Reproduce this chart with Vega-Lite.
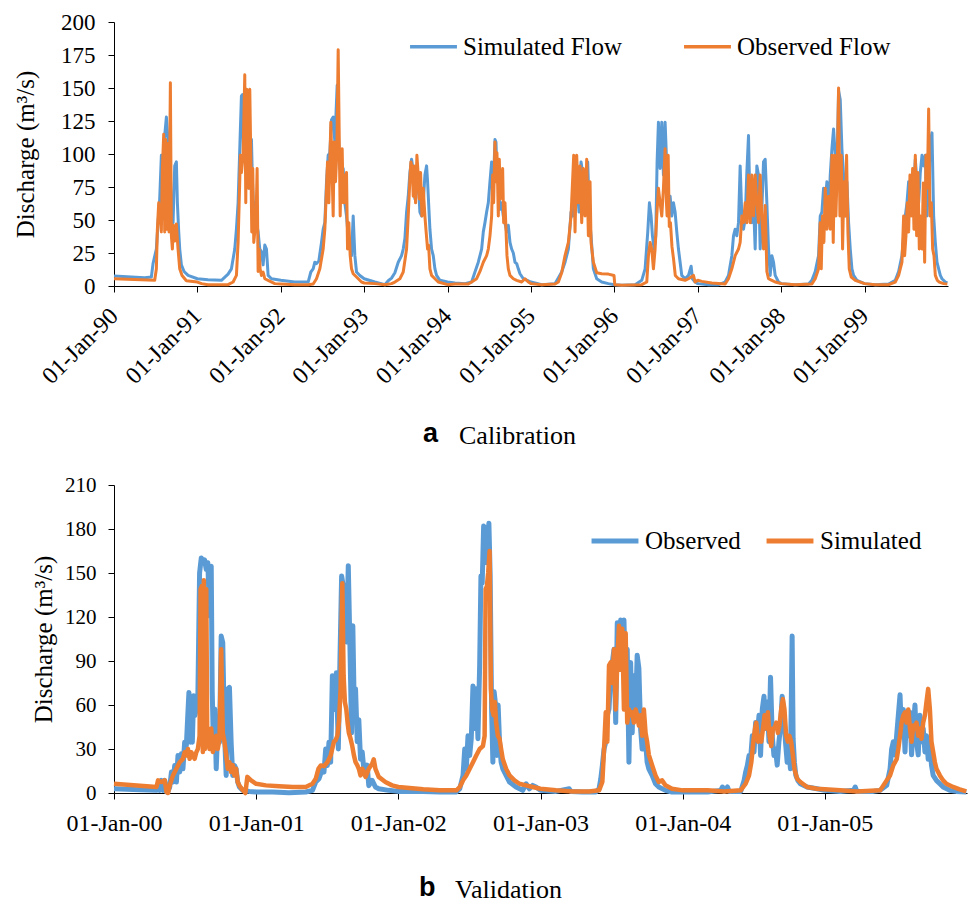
{
"$schema": "https://vega.github.io/schema/vega-lite/v6.json",
"padding": {"left": 13, "top": 11, "right": 0, "bottom": 0},
"spacing": 26,
"config": {
 "view": {"stroke": null},
 "font": "'Liberation Serif', 'Times New Roman', Times, 'DejaVu Serif', serif",
 "axis": {"grid": false, "domainColor": "#000", "tickColor": "#000", "labelColor": "#000", "titleColor": "#000", "labelFont": "'Liberation Serif', 'Times New Roman', Times, 'DejaVu Serif', serif", "titleFont": "'Liberation Serif', 'Times New Roman', Times, 'DejaVu Serif', serif", "titleFontWeight": "normal", "tickSize": 6, "domainWidth": 1, "tickWidth": 1},
 "legend": {"labelFont": "'Liberation Serif', 'Times New Roman', Times, 'DejaVu Serif', serif", "labelColor": "#000"}
},
"datasets": {
"calSim": [
{"t":1990,"q":7.5},{"t":1990.368,"q":6.3},{"t":1990.448,"q":6.8},{"t":1990.468,"q":17},{"t":1990.508,"q":28},{"t":1990.528,"q":48},{"t":1990.548,"q":66},{"t":1990.568,"q":99},{"t":1990.588,"q":96},{"t":1990.608,"q":114},{"t":1990.628,"q":128},{"t":1990.648,"q":110},{"t":1990.66,"q":63},{"t":1990.676,"q":83},{"t":1990.688,"q":53},{"t":1990.708,"q":48},{"t":1990.728,"q":91},{"t":1990.748,"q":94},{"t":1990.76,"q":63},{"t":1990.776,"q":41},{"t":1990.788,"q":28},{"t":1990.808,"q":16},{"t":1990.84,"q":11},{"t":1990.888,"q":8},
{"t":1991,"q":5.5},{"t":1991.128,"q":4.8},{"t":1991.288,"q":4.3},{"t":1991.368,"q":9},{"t":1991.408,"q":13},{"t":1991.448,"q":28},{"t":1991.468,"q":43},{"t":1991.488,"q":63},{"t":1991.508,"q":104},{"t":1991.528,"q":144},{"t":1991.54,"q":145},{"t":1991.552,"q":99},{"t":1991.568,"q":129},{"t":1991.58,"q":86},{"t":1991.592,"q":144},{"t":1991.608,"q":129},{"t":1991.62,"q":74},{"t":1991.636,"q":109},{"t":1991.648,"q":111},{"t":1991.66,"q":79},{"t":1991.676,"q":53},{"t":1991.688,"q":63},{"t":1991.708,"q":48},{"t":1991.728,"q":41},{"t":1991.748,"q":28},{"t":1991.768,"q":26},{"t":1991.788,"q":16},{"t":1991.808,"q":31},{"t":1991.828,"q":28},{"t":1991.848,"q":8},{"t":1991.888,"q":5.5},
{"t":1992,"q":4.3},{"t":1992.168,"q":3},{"t":1992.328,"q":3},{"t":1992.36,"q":10.6},{"t":1992.388,"q":13},{"t":1992.408,"q":18},{"t":1992.428,"q":17},{"t":1992.456,"q":19},{"t":1992.488,"q":33},{"t":1992.508,"q":43},{"t":1992.528,"q":48},{"t":1992.548,"q":79},{"t":1992.568,"q":99},{"t":1992.588,"q":101},{"t":1992.608,"q":126},{"t":1992.628,"q":128},{"t":1992.648,"q":109},{"t":1992.676,"q":152},{"t":1992.688,"q":119},{"t":1992.708,"q":89},{"t":1992.728,"q":84},{"t":1992.748,"q":89},{"t":1992.768,"q":63},{"t":1992.788,"q":53},{"t":1992.808,"q":38},{"t":1992.828,"q":33},{"t":1992.848,"q":23},{"t":1992.868,"q":53},{"t":1992.888,"q":23},{"t":1992.908,"q":10.6},{"t":1992.948,"q":8},
{"t":1993,"q":5.5},{"t":1993.128,"q":3},{"t":1993.248,"q":1},{"t":1993.288,"q":4},{"t":1993.328,"q":6},{"t":1993.368,"q":10},{"t":1993.408,"q":18},{"t":1993.448,"q":23},{"t":1993.468,"q":28},{"t":1993.488,"q":36},{"t":1993.508,"q":56},{"t":1993.528,"q":68},{"t":1993.548,"q":86},{"t":1993.568,"q":96},{"t":1993.58,"q":91},{"t":1993.596,"q":74},{"t":1993.608,"q":66},{"t":1993.628,"q":74},{"t":1993.648,"q":79},{"t":1993.668,"q":56},{"t":1993.688,"q":53},{"t":1993.708,"q":63},{"t":1993.728,"q":84},{"t":1993.748,"q":91},{"t":1993.76,"q":79},{"t":1993.776,"q":58},{"t":1993.788,"q":43},{"t":1993.808,"q":28},{"t":1993.828,"q":23},{"t":1993.848,"q":13},{"t":1993.868,"q":8},{"t":1993.908,"q":4.3},
{"t":1994,"q":3},{"t":1994.088,"q":2.3},{"t":1994.208,"q":1.8},{"t":1994.288,"q":3},{"t":1994.328,"q":10.6},{"t":1994.368,"q":18},{"t":1994.408,"q":28},{"t":1994.428,"q":41},{"t":1994.448,"q":48},{"t":1994.468,"q":56},{"t":1994.488,"q":63},{"t":1994.508,"q":79},{"t":1994.528,"q":94},{"t":1994.548,"q":74},{"t":1994.568,"q":111},{"t":1994.58,"q":109},{"t":1994.592,"q":84},{"t":1994.608,"q":79},{"t":1994.628,"q":58},{"t":1994.648,"q":63},{"t":1994.668,"q":53},{"t":1994.688,"q":48},{"t":1994.708,"q":41},{"t":1994.728,"q":46},{"t":1994.748,"q":33},{"t":1994.768,"q":28},{"t":1994.788,"q":25},{"t":1994.808,"q":18},{"t":1994.828,"q":17},{"t":1994.848,"q":13},{"t":1994.868,"q":9.3},{"t":1994.908,"q":5.5},
{"t":1995,"q":3},{"t":1995.128,"q":1},{"t":1995.288,"q":1.8},{"t":1995.368,"q":10.6},{"t":1995.408,"q":18},{"t":1995.448,"q":28},{"t":1995.48,"q":56},{"t":1995.5,"q":53},{"t":1995.52,"q":63},{"t":1995.548,"q":79},{"t":1995.576,"q":56},{"t":1995.6,"q":94},{"t":1995.624,"q":84},{"t":1995.648,"q":63},{"t":1995.68,"q":94},{"t":1995.7,"q":53},{"t":1995.72,"q":38},{"t":1995.748,"q":13},{"t":1995.788,"q":5.5},{"t":1995.848,"q":3},{"t":1995.928,"q":1.8},
{"t":1996,"q":1},{"t":1996.088,"q":0.5},{"t":1996.248,"q":1},{"t":1996.328,"q":4.3},{"t":1996.368,"q":13},{"t":1996.4,"q":41},{"t":1996.42,"q":63},{"t":1996.44,"q":53},{"t":1996.456,"q":38},{"t":1996.476,"q":28},{"t":1996.496,"q":38},{"t":1996.512,"q":94},{"t":1996.528,"q":124},{"t":1996.548,"q":89},{"t":1996.568,"q":124},{"t":1996.588,"q":84},{"t":1996.608,"q":124},{"t":1996.628,"q":91},{"t":1996.648,"q":63},{"t":1996.668,"q":68},{"t":1996.688,"q":53},{"t":1996.708,"q":63},{"t":1996.728,"q":56},{"t":1996.748,"q":41},{"t":1996.768,"q":28},{"t":1996.788,"q":18},{"t":1996.808,"q":8},{"t":1996.848,"q":5.5},{"t":1996.888,"q":8},{"t":1996.92,"q":15},{"t":1996.936,"q":5.5},{"t":1996.968,"q":3},
{"t":1997,"q":1.8},{"t":1997.128,"q":1},{"t":1997.248,"q":1},{"t":1997.328,"q":3},{"t":1997.368,"q":8},{"t":1997.408,"q":23},{"t":1997.428,"q":38},{"t":1997.448,"q":43},{"t":1997.468,"q":38},{"t":1997.488,"q":48},{"t":1997.508,"q":91},{"t":1997.528,"q":53},{"t":1997.548,"q":43},{"t":1997.568,"q":51},{"t":1997.588,"q":86},{"t":1997.608,"q":114},{"t":1997.628,"q":53},{"t":1997.648,"q":48},{"t":1997.668,"q":63},{"t":1997.688,"q":28},{"t":1997.708,"q":91},{"t":1997.728,"q":84},{"t":1997.748,"q":28},{"t":1997.768,"q":58},{"t":1997.788,"q":94},{"t":1997.808,"q":96},{"t":1997.828,"q":63},{"t":1997.848,"q":28},{"t":1997.868,"q":8},{"t":1997.888,"q":23},{"t":1997.908,"q":18},{"t":1997.928,"q":8},{"t":1997.968,"q":3},
{"t":1998,"q":1.8},{"t":1998.168,"q":1},{"t":1998.328,"q":1.5},{"t":1998.368,"q":4.3},{"t":1998.408,"q":11},{"t":1998.448,"q":23},{"t":1998.468,"q":53},{"t":1998.488,"q":56},{"t":1998.508,"q":74},{"t":1998.528,"q":63},{"t":1998.548,"q":79},{"t":1998.568,"q":53},{"t":1998.588,"q":84},{"t":1998.608,"q":104},{"t":1998.628,"q":119},{"t":1998.648,"q":99},{"t":1998.668,"q":86},{"t":1998.688,"q":148},{"t":1998.708,"q":141},{"t":1998.728,"q":104},{"t":1998.748,"q":84},{"t":1998.768,"q":53},{"t":1998.788,"q":79},{"t":1998.808,"q":48},{"t":1998.828,"q":28},{"t":1998.848,"q":13},{"t":1998.868,"q":8},{"t":1998.908,"q":4.3},
{"t":1999,"q":1.8},{"t":1999.128,"q":1},{"t":1999.288,"q":1.5},{"t":1999.368,"q":4.3},{"t":1999.408,"q":11},{"t":1999.448,"q":23},{"t":1999.468,"q":38},{"t":1999.488,"q":53},{"t":1999.508,"q":63},{"t":1999.528,"q":79},{"t":1999.548,"q":63},{"t":1999.568,"q":84},{"t":1999.588,"q":74},{"t":1999.608,"q":96},{"t":1999.628,"q":79},{"t":1999.648,"q":63},{"t":1999.668,"q":86},{"t":1999.688,"q":99},{"t":1999.708,"q":91},{"t":1999.728,"q":99},{"t":1999.748,"q":53},{"t":1999.768,"q":79},{"t":1999.788,"q":109},{"t":1999.808,"q":116},{"t":1999.828,"q":53},{"t":1999.848,"q":33},{"t":1999.868,"q":18},{"t":1999.888,"q":13},{"t":1999.908,"q":8},{"t":1999.928,"q":5.5},{"t":1999.968,"q":3},{"t":1999.992,"q":2.3}
],
"calObs": [
{"t":1990,"q":5.5},{"t":1990.488,"q":4.3},{"t":1990.508,"q":13},{"t":1990.52,"q":43},{"t":1990.536,"q":63},{"t":1990.552,"q":53},{"t":1990.568,"q":41},{"t":1990.58,"q":89},{"t":1990.596,"q":115},{"t":1990.608,"q":41},{"t":1990.62,"q":111},{"t":1990.632,"q":43},{"t":1990.648,"q":108},{"t":1990.66,"q":41},{"t":1990.676,"q":154},{"t":1990.688,"q":38},{"t":1990.7,"q":28},{"t":1990.712,"q":46},{"t":1990.728,"q":34},{"t":1990.748,"q":47},{"t":1990.768,"q":28},{"t":1990.788,"q":13},{"t":1990.816,"q":8},{"t":1990.868,"q":4},
{"t":1991,"q":3},{"t":1991.05,"q":1.8},{"t":1991.128,"q":1},{"t":1991.368,"q":1},{"t":1991.428,"q":3},{"t":1991.468,"q":8},{"t":1991.488,"q":33},{"t":1991.5,"q":61},{"t":1991.516,"q":99},{"t":1991.528,"q":86},{"t":1991.548,"q":99},{"t":1991.568,"q":160},{"t":1991.58,"q":63},{"t":1991.592,"q":149},{"t":1991.604,"q":89},{"t":1991.616,"q":74},{"t":1991.628,"q":149},{"t":1991.64,"q":99},{"t":1991.652,"q":41},{"t":1991.664,"q":89},{"t":1991.676,"q":33},{"t":1991.688,"q":41},{"t":1991.704,"q":53},{"t":1991.716,"q":89},{"t":1991.728,"q":11},{"t":1991.74,"q":28},{"t":1991.752,"q":13},{"t":1991.768,"q":8},{"t":1991.788,"q":10.6},{"t":1991.808,"q":5.5},{"t":1991.848,"q":4.3},{"t":1991.928,"q":1.8},
{"t":1992,"q":1.5},{"t":1992.168,"q":1},{"t":1992.328,"q":1},{"t":1992.388,"q":1.5},{"t":1992.428,"q":5.5},{"t":1992.468,"q":13},{"t":1992.508,"q":28},{"t":1992.528,"q":43},{"t":1992.548,"q":74},{"t":1992.56,"q":94},{"t":1992.576,"q":63},{"t":1992.588,"q":94},{"t":1992.6,"q":124},{"t":1992.616,"q":84},{"t":1992.628,"q":53},{"t":1992.64,"q":109},{"t":1992.656,"q":79},{"t":1992.672,"q":101},{"t":1992.688,"q":179},{"t":1992.7,"q":116},{"t":1992.712,"q":53},{"t":1992.724,"q":89},{"t":1992.736,"q":104},{"t":1992.748,"q":63},{"t":1992.764,"q":84},{"t":1992.776,"q":63},{"t":1992.788,"q":86},{"t":1992.8,"q":28},{"t":1992.816,"q":48},{"t":1992.832,"q":23},{"t":1992.848,"q":13},{"t":1992.868,"q":9.3},{"t":1992.908,"q":6.8},{"t":1992.968,"q":3},
{"t":1993,"q":2.3},{"t":1993.128,"q":1.8},{"t":1993.248,"q":1},{"t":1993.328,"q":1.8},{"t":1993.368,"q":3},{"t":1993.428,"q":5.5},{"t":1993.468,"q":10.6},{"t":1993.508,"q":28},{"t":1993.528,"q":53},{"t":1993.548,"q":81},{"t":1993.56,"q":94},{"t":1993.576,"q":89},{"t":1993.588,"q":68},{"t":1993.6,"q":91},{"t":1993.616,"q":63},{"t":1993.632,"q":99},{"t":1993.648,"q":84},{"t":1993.66,"q":66},{"t":1993.676,"q":86},{"t":1993.692,"q":53},{"t":1993.708,"q":74},{"t":1993.728,"q":53},{"t":1993.74,"q":43},{"t":1993.76,"q":28},{"t":1993.772,"q":31},{"t":1993.788,"q":13},{"t":1993.808,"q":8},{"t":1993.848,"q":5.5},{"t":1993.888,"q":3},
{"t":1994,"q":1},{"t":1994.088,"q":1.5},{"t":1994.248,"q":1.5},{"t":1994.288,"q":3},{"t":1994.348,"q":5.5},{"t":1994.388,"q":11},{"t":1994.428,"q":18},{"t":1994.468,"q":23},{"t":1994.488,"q":28},{"t":1994.508,"q":38},{"t":1994.528,"q":53},{"t":1994.54,"q":84},{"t":1994.552,"q":63},{"t":1994.568,"q":109},{"t":1994.58,"q":79},{"t":1994.592,"q":101},{"t":1994.608,"q":53},{"t":1994.62,"q":96},{"t":1994.632,"q":66},{"t":1994.648,"q":79},{"t":1994.66,"q":89},{"t":1994.672,"q":48},{"t":1994.688,"q":63},{"t":1994.7,"q":43},{"t":1994.712,"q":23},{"t":1994.728,"q":13},{"t":1994.748,"q":8},{"t":1994.788,"q":5.5},{"t":1994.828,"q":4.3},{"t":1994.888,"q":3},{"t":1994.928,"q":5.5},{"t":1994.968,"q":3},
{"t":1995,"q":1.8},{"t":1995.128,"q":1},{"t":1995.288,"q":1.5},{"t":1995.328,"q":3},{"t":1995.368,"q":10},{"t":1995.408,"q":23},{"t":1995.448,"q":33},{"t":1995.48,"q":53},{"t":1995.512,"q":99},{"t":1995.528,"q":41},{"t":1995.548,"q":99},{"t":1995.568,"q":63},{"t":1995.588,"q":91},{"t":1995.608,"q":48},{"t":1995.628,"q":89},{"t":1995.648,"q":53},{"t":1995.668,"q":96},{"t":1995.688,"q":38},{"t":1995.708,"q":79},{"t":1995.72,"q":33},{"t":1995.748,"q":18},{"t":1995.788,"q":10},{"t":1995.848,"q":9.3},{"t":1995.928,"q":9},{"t":1995.995,"q":8},
{"t":1996.005,"q":1},{"t":1996.088,"q":0.5},{"t":1996.328,"q":1},{"t":1996.388,"q":3},{"t":1996.408,"q":23},{"t":1996.428,"q":33},{"t":1996.448,"q":28},{"t":1996.468,"q":13},{"t":1996.488,"q":28},{"t":1996.508,"q":53},{"t":1996.528,"q":74},{"t":1996.548,"q":63},{"t":1996.568,"q":53},{"t":1996.588,"q":74},{"t":1996.608,"q":104},{"t":1996.624,"q":63},{"t":1996.632,"q":53},{"t":1996.645,"q":99},{"t":1996.658,"q":45},{"t":1996.672,"q":48},{"t":1996.69,"q":30},{"t":1996.71,"q":20},{"t":1996.73,"q":8},{"t":1996.768,"q":5.5},{"t":1996.848,"q":4.3},{"t":1996.888,"q":5.5},{"t":1996.948,"q":8},{"t":1996.968,"q":3},
{"t":1997,"q":4.3},{"t":1997.048,"q":3.5},{"t":1997.168,"q":2.3},{"t":1997.328,"q":1.5},{"t":1997.368,"q":5.5},{"t":1997.408,"q":13},{"t":1997.448,"q":23},{"t":1997.488,"q":28},{"t":1997.508,"q":33},{"t":1997.528,"q":53},{"t":1997.548,"q":48},{"t":1997.568,"q":63},{"t":1997.588,"q":48},{"t":1997.608,"q":84},{"t":1997.628,"q":48},{"t":1997.648,"q":84},{"t":1997.668,"q":53},{"t":1997.688,"q":84},{"t":1997.708,"q":63},{"t":1997.728,"q":48},{"t":1997.748,"q":84},{"t":1997.768,"q":53},{"t":1997.788,"q":28},{"t":1997.808,"q":61},{"t":1997.828,"q":11},{"t":1997.848,"q":5.5},{"t":1997.888,"q":4.3},{"t":1997.928,"q":3},
{"t":1998,"q":1.8},{"t":1998.168,"q":1},{"t":1998.368,"q":1.5},{"t":1998.408,"q":5.5},{"t":1998.448,"q":13},{"t":1998.468,"q":48},{"t":1998.48,"q":13},{"t":1998.496,"q":53},{"t":1998.512,"q":33},{"t":1998.528,"q":74},{"t":1998.548,"q":43},{"t":1998.568,"q":68},{"t":1998.588,"q":43},{"t":1998.608,"q":99},{"t":1998.624,"q":33},{"t":1998.64,"q":99},{"t":1998.656,"q":53},{"t":1998.672,"q":89},{"t":1998.688,"q":150},{"t":1998.704,"q":53},{"t":1998.72,"q":99},{"t":1998.736,"q":28},{"t":1998.752,"q":79},{"t":1998.768,"q":53},{"t":1998.784,"q":99},{"t":1998.8,"q":41},{"t":1998.816,"q":13},{"t":1998.84,"q":6.8},{"t":1998.888,"q":4.3},
{"t":1999,"q":1.8},{"t":1999.128,"q":1},{"t":1999.288,"q":1},{"t":1999.368,"q":3},{"t":1999.408,"q":8},{"t":1999.448,"q":18},{"t":1999.468,"q":53},{"t":1999.48,"q":23},{"t":1999.496,"q":38},{"t":1999.512,"q":63},{"t":1999.528,"q":41},{"t":1999.544,"q":84},{"t":1999.56,"q":53},{"t":1999.576,"q":89},{"t":1999.592,"q":43},{"t":1999.608,"q":99},{"t":1999.624,"q":38},{"t":1999.64,"q":86},{"t":1999.656,"q":28},{"t":1999.672,"q":53},{"t":1999.688,"q":28},{"t":1999.704,"q":78},{"t":1999.72,"q":18},{"t":1999.736,"q":99},{"t":1999.752,"q":74},{"t":1999.768,"q":134},{"t":1999.784,"q":53},{"t":1999.8,"q":63},{"t":1999.816,"q":28},{"t":1999.832,"q":23},{"t":1999.848,"q":8},{"t":1999.872,"q":4.3},{"t":1999.896,"q":3},{"t":1999.948,"q":1.8},{"t":1999.992,"q":1.5}
],
"valObs": [
{"t":2000,"q":2.9},{"t":2000.182,"q":2.3},{"t":2000.299,"q":1.8},{"t":2000.31,"q":6.3},{"t":2000.322,"q":1.8},{"t":2000.334,"q":8.6},{"t":2000.345,"q":1.8},{"t":2000.357,"q":8.6},{"t":2000.369,"q":0.7},{"t":2000.38,"q":1.1},{"t":2000.392,"q":4.1},{"t":2000.404,"q":14.3},{"t":2000.415,"q":7.5},{"t":2000.427,"q":18.8},{"t":2000.439,"q":7.5},{"t":2000.45,"q":25.6},{"t":2000.462,"q":14.3},{"t":2000.474,"q":26.7},{"t":2000.485,"q":16.5},{"t":2000.497,"q":34.6},{"t":2000.509,"q":32.4},{"t":2000.52,"q":55},{"t":2000.527,"q":68.6},{"t":2000.537,"q":34.6},{"t":2000.544,"q":52.8},{"t":2000.551,"q":34.6},{"t":2000.56,"q":66.3},{"t":2000.569,"q":52.8},{"t":2000.579,"q":57.3},{"t":2000.59,"q":66.3},{"t":2000.602,"q":150},{"t":2000.614,"q":160.3},{"t":2000.625,"q":157},{"t":2000.637,"q":159},{"t":2000.649,"q":152.4},{"t":2000.66,"q":157},{"t":2000.672,"q":120.7},{"t":2000.684,"q":154.6},{"t":2000.691,"q":68.6},{"t":2000.7,"q":30},{"t":2000.709,"q":57.3},{"t":2000.719,"q":16.5},{"t":2000.73,"q":43.7},{"t":2000.742,"q":34.6},{"t":2000.754,"q":107},{"t":2000.765,"q":102.6},{"t":2000.777,"q":41.4},{"t":2000.789,"q":12},{"t":2000.8,"q":70.9},{"t":2000.812,"q":72},{"t":2000.824,"q":34.6},{"t":2000.835,"q":12},{"t":2000.847,"q":18.8},{"t":2000.859,"q":16.5},{"t":2000.87,"q":7.5},{"t":2000.882,"q":4.1},{"t":2000.905,"q":1.8},{"t":2000.952,"q":1.1},
{"t":2001,"q":0.7},{"t":2001.116,"q":0.7},{"t":2001.232,"q":0.2},{"t":2001.349,"q":0.7},{"t":2001.396,"q":1.8},{"t":2001.419,"q":7.5},{"t":2001.442,"q":9.7},{"t":2001.466,"q":16.5},{"t":2001.477,"q":14.3},{"t":2001.489,"q":30},{"t":2001.501,"q":18.8},{"t":2001.512,"q":34.6},{"t":2001.524,"q":21},{"t":2001.536,"q":80},{"t":2001.554,"q":57},{"t":2001.564,"q":82},{"t":2001.578,"q":30},{"t":2001.589,"q":89},{"t":2001.601,"q":148},{"t":2001.613,"q":141},{"t":2001.624,"q":118},{"t":2001.636,"q":103},{"t":2001.648,"q":155},{"t":2001.659,"q":103},{"t":2001.671,"q":41},{"t":2001.68,"q":114},{"t":2001.69,"q":57},{"t":2001.699,"q":71},{"t":2001.711,"q":35},{"t":2001.722,"q":50},{"t":2001.734,"q":23},{"t":2001.746,"q":28},{"t":2001.757,"q":16.5},{"t":2001.769,"q":12},{"t":2001.781,"q":19},{"t":2001.792,"q":5},{"t":2001.816,"q":8.6},{"t":2001.839,"q":4.1},{"t":2001.862,"q":2.9},{"t":2001.932,"q":1.8},
{"t":2002,"q":1.1},{"t":2002.175,"q":1.1},{"t":2002.292,"q":0.7},{"t":2002.408,"q":0.7},{"t":2002.432,"q":2.9},{"t":2002.455,"q":12},{"t":2002.467,"q":30},{"t":2002.478,"q":16.5},{"t":2002.49,"q":39},{"t":2002.502,"q":25.6},{"t":2002.513,"q":37},{"t":2002.525,"q":73},{"t":2002.537,"q":44},{"t":2002.548,"q":71},{"t":2002.56,"q":37},{"t":2002.572,"q":87},{"t":2002.581,"q":148},{"t":2002.59,"q":143},{"t":2002.6,"q":182},{"t":2002.609,"q":181},{"t":2002.618,"q":157},{"t":2002.628,"q":170},{"t":2002.637,"q":184},{"t":2002.646,"q":148},{"t":2002.656,"q":57},{"t":2002.665,"q":21},{"t":2002.674,"q":69},{"t":2002.684,"q":60},{"t":2002.693,"q":25.6},{"t":2002.702,"q":60},{"t":2002.712,"q":34.6},{"t":2002.723,"q":21},{"t":2002.735,"q":16.5},{"t":2002.758,"q":12},{"t":2002.782,"q":7.5},{"t":2002.828,"q":4.1},{"t":2002.875,"q":1.8},{"t":2002.898,"q":6.3},{"t":2002.922,"q":2.9},{"t":2002.945,"q":5.2},{"t":2002.968,"q":4.1},
{"t":2003,"q":1.8},{"t":2003.109,"q":1.1},{"t":2003.202,"q":2.9},{"t":2003.214,"q":1.1},{"t":2003.295,"q":0.7},{"t":2003.389,"q":0.7},{"t":2003.412,"q":2.9},{"t":2003.424,"q":9.7},{"t":2003.435,"q":18.8},{"t":2003.447,"q":30},{"t":2003.459,"q":34.6},{"t":2003.47,"q":52.8},{"t":2003.482,"q":57.3},{"t":2003.494,"q":80},{"t":2003.505,"q":89},{"t":2003.517,"q":98},{"t":2003.529,"q":48},{"t":2003.54,"q":116},{"t":2003.552,"q":89},{"t":2003.564,"q":118},{"t":2003.575,"q":103},{"t":2003.587,"q":118},{"t":2003.599,"q":71},{"t":2003.61,"q":98},{"t":2003.622,"q":21},{"t":2003.634,"q":89},{"t":2003.645,"q":41},{"t":2003.657,"q":80},{"t":2003.669,"q":57},{"t":2003.68,"q":94},{"t":2003.692,"q":85},{"t":2003.704,"q":44},{"t":2003.715,"q":30},{"t":2003.727,"q":44},{"t":2003.739,"q":35},{"t":2003.75,"q":21},{"t":2003.762,"q":16.5},{"t":2003.785,"q":12},{"t":2003.809,"q":6.3},{"t":2003.832,"q":4.1},{"t":2003.879,"q":1.8},{"t":2003.925,"q":0.7},
{"t":2004,"q":0.7},{"t":2004.175,"q":0.7},{"t":2004.268,"q":1.8},{"t":2004.28,"q":4.1},{"t":2004.292,"q":1.1},{"t":2004.315,"q":4.1},{"t":2004.327,"q":1.1},{"t":2004.408,"q":1.1},{"t":2004.432,"q":8.6},{"t":2004.443,"q":14.3},{"t":2004.455,"q":18.8},{"t":2004.467,"q":25.6},{"t":2004.478,"q":23.3},{"t":2004.49,"q":39},{"t":2004.502,"q":28},{"t":2004.513,"q":48},{"t":2004.525,"q":39},{"t":2004.537,"q":53},{"t":2004.548,"q":25.6},{"t":2004.56,"q":57},{"t":2004.572,"q":66},{"t":2004.583,"q":44},{"t":2004.595,"q":62},{"t":2004.607,"q":35},{"t":2004.618,"q":79},{"t":2004.63,"q":39},{"t":2004.642,"q":25.6},{"t":2004.653,"q":30},{"t":2004.665,"q":19},{"t":2004.677,"q":35},{"t":2004.688,"q":44},{"t":2004.7,"q":66},{"t":2004.712,"q":53},{"t":2004.723,"q":35},{"t":2004.735,"q":21},{"t":2004.747,"q":30},{"t":2004.758,"q":16.5},{"t":2004.77,"q":107},{"t":2004.777,"q":37},{"t":2004.786,"q":21},{"t":2004.796,"q":12},{"t":2004.81,"q":8.6},{"t":2004.828,"q":6.3},{"t":2004.875,"q":4.1},{"t":2004.945,"q":2.9},
{"t":2005,"q":1.8},{"t":2005.108,"q":1.1},{"t":2005.202,"q":1.8},{"t":2005.214,"q":4.1},{"t":2005.225,"q":1.1},{"t":2005.342,"q":1.1},{"t":2005.389,"q":1.8},{"t":2005.435,"q":5.2},{"t":2005.459,"q":16.5},{"t":2005.47,"q":30},{"t":2005.482,"q":35},{"t":2005.494,"q":26},{"t":2005.505,"q":39},{"t":2005.517,"q":53},{"t":2005.529,"q":67},{"t":2005.54,"q":39},{"t":2005.552,"q":57},{"t":2005.564,"q":28},{"t":2005.575,"q":55},{"t":2005.587,"q":39},{"t":2005.599,"q":55},{"t":2005.61,"q":26},{"t":2005.622,"q":44},{"t":2005.634,"q":60},{"t":2005.645,"q":35},{"t":2005.657,"q":26},{"t":2005.669,"q":53},{"t":2005.68,"q":35},{"t":2005.692,"q":44},{"t":2005.704,"q":28},{"t":2005.715,"q":39},{"t":2005.727,"q":23},{"t":2005.739,"q":35},{"t":2005.75,"q":19},{"t":2005.762,"q":12},{"t":2005.785,"q":8.6},{"t":2005.809,"q":6.3},{"t":2005.832,"q":4.1},{"t":2005.879,"q":1.8},{"t":2005.925,"q":1.1},{"t":2005.995,"q":0.7}
],
"valSim": [
{"t":2000,"q":6.3},{"t":2000.299,"q":4.1},{"t":2000.31,"q":8.6},{"t":2000.334,"q":7.5},{"t":2000.357,"q":8.6},{"t":2000.369,"q":0.7},{"t":2000.38,"q":0},{"t":2000.392,"q":5.2},{"t":2000.415,"q":12},{"t":2000.439,"q":16.5},{"t":2000.462,"q":21},{"t":2000.485,"q":23.3},{"t":2000.497,"q":27.8},{"t":2000.509,"q":25.6},{"t":2000.52,"q":30},{"t":2000.532,"q":23.3},{"t":2000.544,"q":27.8},{"t":2000.555,"q":25.6},{"t":2000.567,"q":23.3},{"t":2000.579,"q":27.8},{"t":2000.59,"q":30},{"t":2000.602,"q":39},{"t":2000.609,"q":139},{"t":2000.618,"q":141},{"t":2000.625,"q":28},{"t":2000.632,"q":145},{"t":2000.639,"q":30},{"t":2000.649,"q":139},{"t":2000.656,"q":35},{"t":2000.663,"q":39},{"t":2000.672,"q":30},{"t":2000.684,"q":44},{"t":2000.695,"q":28},{"t":2000.707,"q":32},{"t":2000.719,"q":39},{"t":2000.73,"q":30},{"t":2000.742,"q":37},{"t":2000.754,"q":98},{"t":2000.765,"q":41},{"t":2000.777,"q":35},{"t":2000.789,"q":26},{"t":2000.8,"q":16.5},{"t":2000.812,"q":21},{"t":2000.824,"q":14.3},{"t":2000.835,"q":19},{"t":2000.847,"q":12},{"t":2000.859,"q":16.5},{"t":2000.87,"q":7.5},{"t":2000.882,"q":5},{"t":2000.905,"q":2},{"t":2000.924,"q":0},{"t":2000.938,"q":11},{"t":2000.964,"q":8.6},
{"t":2001,"q":6.3},{"t":2001.069,"q":5.2},{"t":2001.162,"q":4.6},{"t":2001.256,"q":4.1},{"t":2001.349,"q":4.1},{"t":2001.396,"q":6.3},{"t":2001.419,"q":9.7},{"t":2001.438,"q":16.5},{"t":2001.454,"q":18.8},{"t":2001.477,"q":18.3},{"t":2001.501,"q":21},{"t":2001.524,"q":25.6},{"t":2001.547,"q":35},{"t":2001.559,"q":36},{"t":2001.571,"q":39},{"t":2001.582,"q":48},{"t":2001.594,"q":71},{"t":2001.606,"q":143},{"t":2001.615,"q":80},{"t":2001.624,"q":62},{"t":2001.634,"q":57},{"t":2001.643,"q":48},{"t":2001.652,"q":41},{"t":2001.664,"q":37},{"t":2001.676,"q":32},{"t":2001.687,"q":26},{"t":2001.699,"q":21},{"t":2001.711,"q":19},{"t":2001.722,"q":16.5},{"t":2001.734,"q":12},{"t":2001.746,"q":16.5},{"t":2001.757,"q":14.3},{"t":2001.769,"q":11},{"t":2001.792,"q":16.5},{"t":2001.816,"q":20},{"t":2001.827,"q":23},{"t":2001.839,"q":16.5},{"t":2001.862,"q":11},{"t":2001.909,"q":7.5},{"t":2001.956,"q":5.2},
{"t":2002,"q":4.1},{"t":2002.175,"q":2.5},{"t":2002.292,"q":1.8},{"t":2002.408,"q":1.8},{"t":2002.432,"q":4.1},{"t":2002.455,"q":8.6},{"t":2002.478,"q":12},{"t":2002.502,"q":16.5},{"t":2002.525,"q":21},{"t":2002.548,"q":25.6},{"t":2002.572,"q":30},{"t":2002.595,"q":32},{"t":2002.607,"q":39},{"t":2002.614,"q":139},{"t":2002.623,"q":141},{"t":2002.632,"q":150},{"t":2002.642,"q":165},{"t":2002.651,"q":71},{"t":2002.66,"q":57},{"t":2002.67,"q":53},{"t":2002.679,"q":62},{"t":2002.688,"q":48},{"t":2002.7,"q":39},{"t":2002.712,"q":37},{"t":2002.723,"q":30},{"t":2002.735,"q":23},{"t":2002.758,"q":16.5},{"t":2002.782,"q":12},{"t":2002.817,"q":8.6},{"t":2002.852,"q":6.3},{"t":2002.898,"q":5.2},{"t":2002.945,"q":4.1},
{"t":2003,"q":2.9},{"t":2003.109,"q":1.8},{"t":2003.225,"q":1.1},{"t":2003.342,"q":1.1},{"t":2003.412,"q":1.8},{"t":2003.435,"q":7.5},{"t":2003.447,"q":30},{"t":2003.459,"q":55},{"t":2003.47,"q":35},{"t":2003.482,"q":87},{"t":2003.494,"q":89},{"t":2003.505,"q":75},{"t":2003.517,"q":98},{"t":2003.529,"q":57},{"t":2003.54,"q":89},{"t":2003.552,"q":114},{"t":2003.564,"q":84},{"t":2003.575,"q":112},{"t":2003.587,"q":57},{"t":2003.599,"q":109},{"t":2003.61,"q":48},{"t":2003.622,"q":57},{"t":2003.634,"q":53},{"t":2003.645,"q":55},{"t":2003.657,"q":48},{"t":2003.669,"q":57},{"t":2003.68,"q":53},{"t":2003.692,"q":46},{"t":2003.704,"q":53},{"t":2003.715,"q":39},{"t":2003.727,"q":57},{"t":2003.739,"q":41},{"t":2003.75,"q":35},{"t":2003.762,"q":26},{"t":2003.785,"q":19},{"t":2003.809,"q":12},{"t":2003.832,"q":7.5},{"t":2003.855,"q":8.6},{"t":2003.879,"q":5.2},{"t":2003.925,"q":2.9},
{"t":2004,"q":1.8},{"t":2004.175,"q":1.8},{"t":2004.292,"q":1.1},{"t":2004.408,"q":1.8},{"t":2004.443,"q":6.3},{"t":2004.467,"q":12},{"t":2004.483,"q":21},{"t":2004.497,"q":35},{"t":2004.509,"q":44},{"t":2004.518,"q":48},{"t":2004.53,"q":35},{"t":2004.541,"q":39},{"t":2004.553,"q":35},{"t":2004.565,"q":44},{"t":2004.576,"q":53},{"t":2004.588,"q":44},{"t":2004.6,"q":55},{"t":2004.611,"q":39},{"t":2004.623,"q":32},{"t":2004.635,"q":44},{"t":2004.646,"q":44},{"t":2004.658,"q":48},{"t":2004.67,"q":41},{"t":2004.681,"q":46},{"t":2004.693,"q":57},{"t":2004.705,"q":64},{"t":2004.716,"q":57},{"t":2004.728,"q":39},{"t":2004.74,"q":35},{"t":2004.751,"q":39},{"t":2004.763,"q":35},{"t":2004.775,"q":26},{"t":2004.786,"q":16.5},{"t":2004.805,"q":9.7},{"t":2004.828,"q":7.5},{"t":2004.875,"q":4.1},{"t":2004.945,"q":2.9},
{"t":2005,"q":2.5},{"t":2005.108,"q":1.8},{"t":2005.225,"q":1.1},{"t":2005.389,"q":1.8},{"t":2005.412,"q":5.2},{"t":2005.435,"q":8.6},{"t":2005.459,"q":12},{"t":2005.482,"q":19},{"t":2005.505,"q":23},{"t":2005.517,"q":30},{"t":2005.529,"q":39},{"t":2005.54,"q":48},{"t":2005.552,"q":53},{"t":2005.564,"q":55},{"t":2005.575,"q":48},{"t":2005.587,"q":57},{"t":2005.599,"q":44},{"t":2005.61,"q":35},{"t":2005.622,"q":46},{"t":2005.634,"q":44},{"t":2005.645,"q":48},{"t":2005.657,"q":39},{"t":2005.669,"q":44},{"t":2005.68,"q":37},{"t":2005.692,"q":48},{"t":2005.704,"q":53},{"t":2005.715,"q":62},{"t":2005.727,"q":71},{"t":2005.739,"q":57},{"t":2005.75,"q":35},{"t":2005.762,"q":28},{"t":2005.774,"q":21},{"t":2005.785,"q":16.5},{"t":2005.809,"q":12},{"t":2005.832,"q":8.6},{"t":2005.855,"q":6.3},{"t":2005.902,"q":4.1},{"t":2005.949,"q":2.5},{"t":2005.995,"q":1.1}
]
},
"vconcat": [
{
 "width": 834, "height": 264,
 "title": {"text": "a", "orient": "bottom", "anchor": "start", "frame": "group", "font": "'Liberation Sans', Arial, Helvetica, sans-serif", "fontWeight": "bold", "fontSize": 27, "color": "#000", "baseline": "alphabetic", "offset": 0, "dx": 309, "dy": -6},
 "encoding": {
  "x": {"field": "t", "type": "quantitative", "scale": {"domain": [1990, 2000], "nice": false, "zero": false},
   "axis": {"values": [1990,1991,1992,1993,1994,1995,1996,1997,1998,1999], "labelExpr": "'01-Jan-' + slice(toString(datum.value), 2)", "labelAngle": -45, "labelAlign": "right", "labelBaseline": "middle", "labelFontSize": 24, "labelPadding": 20, "labelFlush": false, "labelOverlap": false, "labelBound": false,
    "title": "Calibration", "titleFontSize": 26, "titleX": 403, "titleY": 157, "titleAlign": "center", "titleBaseline": "alphabetic", "titleAnchor": null}},
  "y": {"field": "q", "type": "quantitative", "scale": {"domain": [0, 200], "nice": false},
   "axis": {"values": [0,25,50,75,100,125,150,175,200], "labelFontSize": 23, "labelPadding": 13, "title": "Discharge (m³/s)", "titleFontSize": 25, "titlePadding": 22}}
 },
 "layer": [
  {"data": {"name": "calSim"}, "mark": {"type": "line", "strokeWidth": 3, "strokeJoin": "round"},
   "encoding": {"color": {"datum": "Simulated Flow", "type": "nominal",
     "scale": {"domain": ["Simulated Flow", "Observed Flow"], "range": ["#5B9BD5", "#ED7D31"]},
     "legend": {"orient": "none", "legendX": 294, "legendY": -1, "direction": "horizontal", "title": null, "symbolType": "stroke", "symbolStrokeWidth": 3.5, "symbolSize": 2200, "labelFontSize": 25, "labelOffset": 4, "columnPadding": 54, "padding": 0}}}},
  {"data": {"name": "calObs"}, "mark": {"type": "line", "strokeWidth": 3, "strokeJoin": "round"},
   "encoding": {"color": {"datum": "Observed Flow", "type": "nominal"}}}
 ]
},
{
 "width": 853, "height": 308,
 "title": {"text": "b", "orient": "bottom", "anchor": "start", "frame": "group", "font": "'Liberation Sans', Arial, Helvetica, sans-serif", "fontWeight": "bold", "fontSize": 27, "color": "#000", "baseline": "alphabetic", "offset": 0, "dx": 305, "dy": -6},
 "encoding": {
  "x": {"field": "t", "type": "quantitative", "scale": {"domain": [2000, 2006], "nice": false, "zero": false},
   "axis": {"values": [2000,2001,2002,2003,2004,2005], "labelExpr": "'01-Jan-' + slice(toString(datum.value), 2)", "labelAngle": 0, "labelAlign": "center", "labelBaseline": "top", "labelFontSize": 24, "labelPadding": 12, "labelFlush": false, "labelOverlap": false,
    "title": "Validation", "titleFontSize": 26, "titleX": 394, "titleY": 104, "titleAlign": "center", "titleBaseline": "alphabetic", "titleAnchor": null}},
  "y": {"field": "q", "type": "quantitative", "scale": {"domain": [0, 210], "nice": false},
   "axis": {"values": [0,30,60,90,120,150,180,210], "labelFontSize": 21, "labelPadding": 12, "title": "Discharge (m³/s)", "titleFontSize": 25, "titlePadding": 8}}
 },
 "layer": [
  {"data": {"name": "valObs"}, "mark": {"type": "line", "strokeWidth": 5, "strokeJoin": "round"},
   "encoding": {"color": {"datum": "Observed", "type": "nominal",
     "scale": {"domain": ["Observed", "Simulated"], "range": ["#5B9BD5", "#ED7D31"]},
     "legend": {"orient": "none", "legendX": 475, "legendY": 30, "direction": "horizontal", "title": null, "symbolType": "stroke", "symbolStrokeWidth": 5, "symbolSize": 2200, "labelFontSize": 25, "labelOffset": 4, "columnPadding": 15, "padding": 0}}}},
  {"data": {"name": "valSim"}, "mark": {"type": "line", "strokeWidth": 4.5, "strokeJoin": "round"},
   "encoding": {"color": {"datum": "Simulated", "type": "nominal"}}}
 ]
}
],
"resolve": {"scale": {"color": "independent"}, "legend": {"color": "independent"}}
}
